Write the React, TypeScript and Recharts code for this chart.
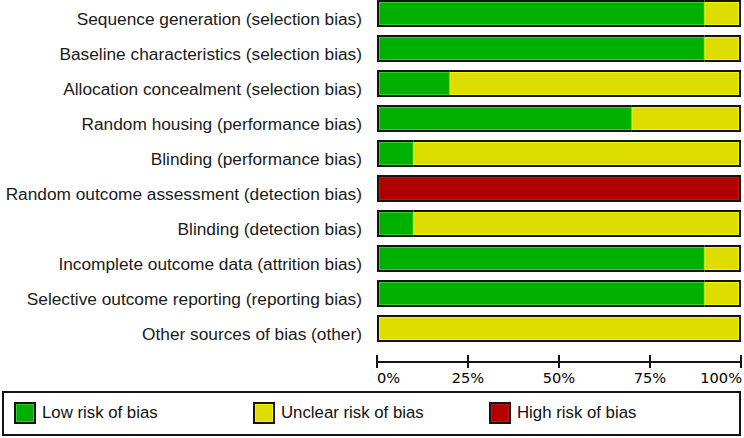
import React from 'react';
import { BarChart, Bar, XAxis, YAxis, Legend } from 'recharts';

const categories = [
  'Sequence generation (selection bias)',
  'Baseline characteristics (selection bias)',
  'Allocation concealment (selection bias)',
  'Random housing (performance bias)',
  'Blinding (performance bias)',
  'Random outcome assessment (detection bias)',
  'Blinding (detection bias)',
  'Incomplete outcome data (attrition bias)',
  'Selective outcome reporting (reporting bias)',
  'Other sources of bias (other)',
];
const lowRisk = [90, 90, 20, 70, 10, 0, 10, 90, 90, 0];
const unclearRisk = [10, 10, 80, 30, 90, 0, 90, 10, 10, 100];
const highRisk = [0, 0, 0, 0, 0, 100, 0, 0, 0, 0];
const xTicks = [0, 25, 50, 75, 100];

const seriesKeys = ['low', 'unclear', 'high'];
const seriesNames = ['Low risk of bias', 'Unclear risk of bias', 'High risk of bias'];
const seriesColors = ['#00B000', '#DDDD00', '#B00000'];
const lightColors = ['#2BD02B', '#F4F400', '#C81010'];

const data = categories.map((name, i) => ({
  name,
  low: lowRisk[i],
  unclear: unclearRisk[i],
  high: highRisk[i],
}));

const OUT = '#141414';

const makeShape = (key: string) => (props: any) => {
  const { x, y, width, height, payload } = props;
  if (!width || width <= 0.01) return null;
  const idx = seriesKeys.indexOf(key);
  const leftEdge = seriesKeys.slice(0, idx).every((k) => !payload[k]);
  const rightEdge = seriesKeys.slice(idx + 1).every((k) => !payload[k]);
  const li = leftEdge ? 2.5 : 0.5;
  const ri = rightEdge ? 2.5 : 0.5;
  return (
    <g>
      <rect x={x} y={y} width={width} height={height} fill={seriesColors[idx]} />
      <rect
        x={x + li}
        y={y + 2.5}
        width={Math.max(0, width - li - ri)}
        height={height - 5}
        fill="none"
        stroke={lightColors[idx]}
        strokeWidth={1}
      />
      <line x1={x} x2={x + width} y1={y + 1} y2={y + 1} stroke={OUT} strokeWidth={2} />
      <line x1={x} x2={x + width} y1={y + height - 1} y2={y + height - 1} stroke={OUT} strokeWidth={2} />
      {leftEdge && <line x1={x + 1} x2={x + 1} y1={y} y2={y + height} stroke={OUT} strokeWidth={2} />}
      {rightEdge && <line x1={x + width - 1} x2={x + width - 1} y1={y} y2={y + height} stroke={OUT} strokeWidth={2} />}
    </g>
  );
};

const YTick = (props: any) => {
  const { x, y, payload } = props;
  return (
    <text
      x={x - 15}
      y={y + 11}
      textAnchor="end"
      fontSize={17.3}
      fontFamily="'Liberation Sans', Arial, sans-serif"
      fill="#1a1a1a"
    >
      {payload.value}
    </text>
  );
};

const XTick = (props: any) => {
  const { x, y, payload } = props;
  const v = payload.value;
  const last = xTicks[xTicks.length - 1];
  const anchor = v === xTicks[0] ? 'start' : v === last ? 'end' : 'middle';
  return (
    <g>
      <line x1={x} x2={x} y1={y - 7} y2={y + 6} stroke={OUT} strokeWidth={2} />
      <text
        x={v === last ? x + 1 : x}
        y={y + 21}
        textAnchor={anchor}
        fontSize={14.6}
        fontFamily="'DejaVu Sans', sans-serif"
        fill="#000"
      >
        {v}%
      </text>
    </g>
  );
};

const legendLefts = [10, 249, 485];

const LegendContent = (props: any) => {
  const payload = (props.payload || []).slice().sort(
    (a: any, b: any) => seriesNames.indexOf(a.value) - seriesNames.indexOf(b.value)
  );
  return (
    <div
      style={{
        position: 'relative',
        boxSizing: 'border-box',
        width: 739,
        height: 45,
        border: `2px solid ${OUT}`,
        background: '#fff',
        fontFamily: "'Liberation Sans', Arial, sans-serif",
        fontSize: 16.8,
        color: '#111',
      }}
    >
      {payload.map((entry: any, i: number) => {
        const si = seriesNames.indexOf(entry.value);
        return (
          <div key={i} style={{ position: 'absolute', left: legendLefts[si], top: 9, display: 'flex', alignItems: 'center' }}>
            <div
              style={{
                boxSizing: 'border-box',
                width: 22,
                height: 22,
                background: entry.color,
                border: `2px solid ${OUT}`,
                boxShadow: `inset 0 0 0 1px ${lightColors[si]}`,
              }}
            />
            <span style={{ marginLeft: 6, lineHeight: '22px', whiteSpace: 'nowrap' }}>{entry.value}</span>
          </div>
        );
      })}
    </div>
  );
};

export default function App() {
  return (
    <div style={{ position: 'absolute', left: 0, top: 0, background: '#fff' }}>
      <BarChart
        width={744}
        height={438}
        data={data}
        layout="vertical"
        margin={{ top: -4, right: 3, bottom: 0, left: 0 }}
      >
        <XAxis
          xAxisId="b"
          type="number"
          domain={[0, 100]}
          ticks={xTicks}
          height={76}
          axisLine={{ stroke: OUT, strokeWidth: 2 }}
          tickLine={false}
          tickSize={0}
          tickMargin={0}
          tick={<XTick />}
          interval={0}
        />
        <XAxis xAxisId="a" type="number" domain={[0, 100]} height={16} axisLine={false} tickLine={false} tick={false} />
        <YAxis
          type="category"
          dataKey="name"
          width={377}
          axisLine={false}
          tickLine={false}
          tickSize={0}
          tickMargin={0}
          tick={<YTick />}
          interval={0}
        />
        {seriesKeys.map((k, i) => (
          <Bar
            key={k}
            dataKey={k}
            name={seriesNames[i]}
            stackId="s"
            xAxisId="b"
            fill={seriesColors[i]}
            barSize={27}
            shape={makeShape(k)}
            isAnimationActive={false}
          />
        ))}
        <Legend
          layout="horizontal"
          verticalAlign="middle"
          align="center"
          wrapperStyle={{ position: 'absolute', left: 2, top: 391, width: 739, height: 45 }}
          content={<LegendContent />}
        />
      </BarChart>
    </div>
  );
}
